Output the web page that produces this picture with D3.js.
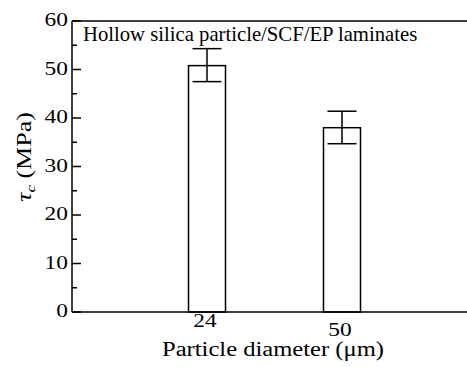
<!DOCTYPE html>
<html>
<head>
<meta charset="utf-8">
<script src="https://cdn.jsdelivr.net/npm/d3@7"></script>
<style>
  body { margin: 0; background: #fff; }
  text { font-family: "Liberation Serif", "Times New Roman", serif; fill: #000; }
</style>
</head>
<body>
<script>
/* Data */
var diameters = ["24", "50"],
    shearStrength = [50.8, 38.0],
    errorHigh = [54.3, 41.4],
    errorLow = [47.5, 34.7],
    yTicks = [0, 10, 20, 30, 40, 50, 60],
    yMinorTicks = [5, 15, 25, 35, 45, 55];

/* Display setup */
var W = 467, H = 369,
    margin = {top: 21, right: -10, bottom: 57, left: 72},
    stretch = 1.3, fontSize = 18, barWidth = 37;

var svg = d3.select("body").append("svg")
    .attr("width", W).attr("height", H);

var x = d3.scalePoint().domain(diameters)
    .range([margin.left, W - margin.right]).padding(1);
var y = d3.scaleLinear().domain([0, 60])
    .range([H - margin.bottom, margin.top]);

// frame: left and top (no right side in the original)
var frame = svg.append("g").attr("stroke", "#000").attr("stroke-width", 1.5).attr("fill", "none");
frame.append("line").attr("x1", margin.left).attr("x2", margin.left).attr("y1", y(60)).attr("y2", y(0));
frame.append("line").attr("x1", margin.left).attr("x2", W + 5).attr("y1", y(60)).attr("y2", y(60));

// y ticks inward
frame.selectAll("line.major").data(yTicks).enter().append("line")
    .attr("x1", margin.left).attr("x2", margin.left + 9)
    .attr("y1", function(d) { return y(d); }).attr("y2", function(d) { return y(d); });
frame.selectAll("line.minor").data(yMinorTicks).enter().append("line")
    .attr("x1", margin.left).attr("x2", margin.left + 5)
    .attr("y1", function(d) { return y(d); }).attr("y2", function(d) { return y(d); });

svg.selectAll("text.ytick").data(yTicks).enter().append("text")
    .attr("transform", function(d) { return "translate(" + (margin.left - 4) + "," + (y(d) - 1) + ") scale(" + stretch + ",1)"; })
    .attr("text-anchor", "end").attr("dy", "0.34em")
    .style("font-size", fontSize + "px")
    .text(function(d) { return d; });

// bars
var bars = svg.append("g").attr("stroke", "#000").attr("stroke-width", 1.5).attr("fill", "none");
bars.selectAll("rect").data(diameters).enter().append("rect")
    .attr("x", function(d) { return x(d) - barWidth / 2; })
    .attr("y", function(d, i) { return y(shearStrength[i]); })
    .attr("width", barWidth)
    .attr("height", function(d, i) { return y(0) - y(shearStrength[i]); });

// error bars
var err = svg.append("g").attr("stroke", "#000").attr("stroke-width", 1.5);
diameters.forEach(function(d, i) {
  var cx = x(d);
  err.append("line").attr("x1", cx).attr("x2", cx).attr("y1", y(errorLow[i])).attr("y2", y(errorHigh[i]));
  [errorLow[i], errorHigh[i]].forEach(function(v) {
    err.append("line").attr("x1", cx - 14.5).attr("x2", cx + 14.5).attr("y1", y(v)).attr("y2", y(v));
  });
});

// bottom axis line
svg.append("line").attr("stroke", "#000").attr("stroke-width", 1.5)
    .attr("x1", margin.left).attr("x2", W + 5).attr("y1", y(0)).attr("y2", y(0));

// x tick labels (the second sits a little lower in the original)
svg.selectAll("text.xtick").data(diameters).enter().append("text")
    .attr("transform", function(d, i) { return "translate(" + (x(d) - 2) + "," + (y(0) + 15 + i * 9) + ") scale(" + stretch + ",1)"; })
    .attr("text-anchor", "middle")
    .style("font-size", fontSize + "px")
    .text(function(d) { return d; });

// axis titles
svg.append("text")
    .attr("transform", "translate(273,356) scale(1.23,1)")
    .attr("text-anchor", "middle")
    .style("font-size", "20px")
    .text("Particle diameter (\u03bcm)");

var ylab = svg.append("text")
    .attr("transform", "translate(31,157) rotate(-90) scale(" + stretch + ",1)")
    .attr("text-anchor", "middle")
    .style("font-size", "20px");
ylab.append("tspan").style("font-style", "italic").text("\u03c4");
ylab.append("tspan").attr("dy", 4).style("font-size", "13px").style("font-style", "italic").text("c");
ylab.append("tspan").attr("dy", -4).text(" (MPa)");

// legend text
svg.append("text")
    .attr("transform", "translate(83,41)")
    .style("font-size", "20.7px")
    .text("Hollow silica particle/SCF/EP laminates");
</script>
</body>
</html>
